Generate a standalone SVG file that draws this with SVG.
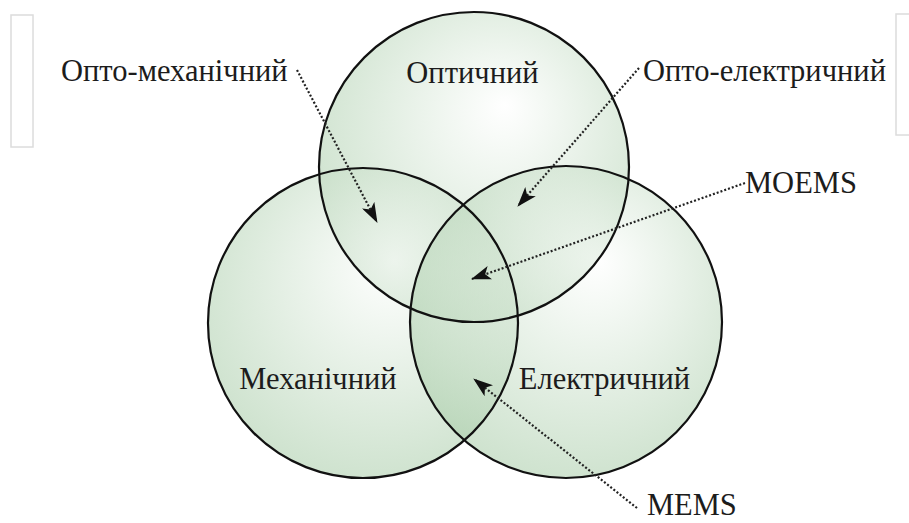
<svg xmlns="http://www.w3.org/2000/svg" width="909" height="523" viewBox="0 0 909 523">
<style>
.f{fill:url(#g);fill-opacity:0.55;stroke:none}
.o{fill:none;stroke:#111;stroke-width:2.2}
.t{font-family:'Liberation Serif','Times New Roman',serif;font-size:30.5px;fill:#1c1c1c}
.l{fill:none;stroke:#222;stroke-width:2.2;stroke-dasharray:2 2}
.fr{fill:none;stroke:#dcdcdc;stroke-width:1.5}
</style>
<defs>
<radialGradient id="g" cx="0.55" cy="0.4" r="0.6" fx="0.6" fy="0.3">
<stop offset="0" stop-color="#ffffff"/>
<stop offset="1" stop-color="#a8cca8"/>
</radialGradient>
<marker id="a" viewBox="0 0 20 14" refX="19" refY="7" markerWidth="20" markerHeight="14" markerUnits="userSpaceOnUse" orient="auto">
<path d="M0,0 L20,7 L0,14 L5,7 Z" fill="#111"/>
</marker>
</defs>
<rect class="fr" x="11" y="15" width="22" height="132"/>
<rect class="fr" x="896" y="14" width="30" height="121"/>
<g id="optical"><circle class="f" cx="474" cy="167" r="155"/></g>
<g id="mechanical"><circle class="f" cx="363" cy="323" r="155"/></g>
<g id="electrical"><circle class="f" cx="566" cy="322" r="156"/></g>
<g id="outlines">
<circle class="o" cx="474" cy="167" r="155"/>
<circle class="o" cx="363" cy="323" r="155"/>
<circle class="o" cx="566" cy="322" r="156"/>
</g>
<g id="labels">
<text class="t" x="472.5" y="83" text-anchor="middle">Оптичний</text>
<text class="t" x="318" y="389" text-anchor="middle">Механічний</text>
<text class="t" x="604.5" y="389" text-anchor="middle">Електричний</text>
<text class="t" x="61" y="81">Опто-механічний</text>
<text class="t" x="643" y="81">Опто-електричний</text>
<text class="t" x="745" y="193">MOEMS</text>
<text class="t" x="647" y="515">MEMS</text>
</g>
<g id="connectors">
<path class="l" d="M297,70 L377,222" marker-end="url(#a)"/>
<path class="l" d="M639,68 L518,206" marker-end="url(#a)"/>
<path class="l" d="M745,183 L472,279" marker-end="url(#a)"/>
<path class="l" d="M637,508 L474,379" marker-end="url(#a)"/>
</g>
</svg>
